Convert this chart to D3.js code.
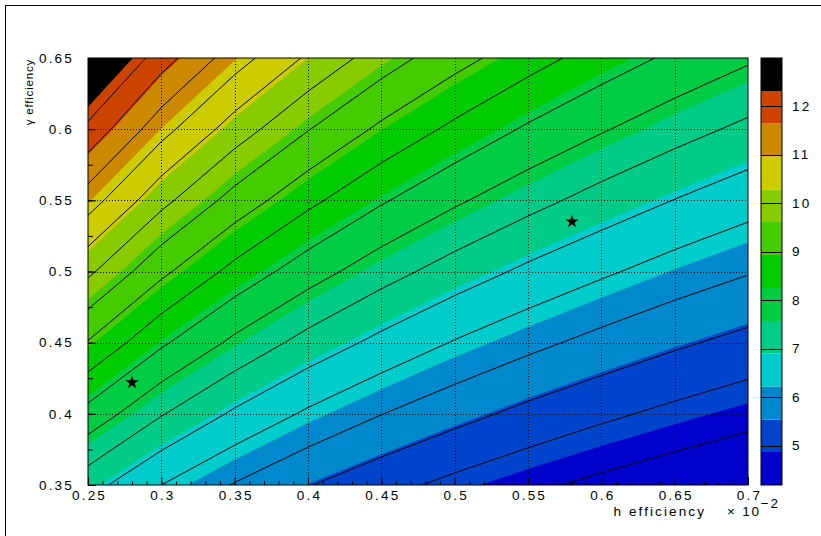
<!DOCTYPE html>
<html>
<head>
<meta charset="utf-8">
<script src="https://cdn.jsdelivr.net/npm/d3@7"></script>
<style>
  body { margin: 0; background: #fff; }
  svg text { font-family: "Liberation Sans", Arial, sans-serif; fill: #000; }
</style>
</head>
<body>
<div id="chart"></div>
<script>
// grid of the 2D histogram (x in units of 1e-2)
const xNodes = [0.25, 0.30, 0.35, 0.40, 0.45, 0.50, 0.55, 0.60, 0.65, 0.70];
const yNodes = [0.35, 0.40, 0.45, 0.50, 0.55, 0.60, 0.65];
const zGrid = [
  [ 7.00,  6.39,  5.92, 5.53, 5.22, 4.95, 4.72, 4.52, 4.34, 4.18],
  [ 8.00,  7.30,  6.76, 6.32, 5.96, 5.66, 5.39, 5.16, 4.96, 4.78],
  [ 9.00,  8.22,  7.61, 7.11, 6.71, 6.36, 6.07, 5.81, 5.58, 5.38],
  [10.00,  9.13,  8.45, 7.91, 7.45, 7.07, 6.74, 6.46, 6.20, 5.98],
  [11.00, 10.04,  9.30, 8.70, 8.20, 7.78, 7.42, 7.10, 6.82, 6.57],
  [12.00, 10.95, 10.14, 9.49, 8.94, 8.49, 8.09, 7.75, 7.44, 7.17],
  [13.00, 11.87, 10.99, 10.28, 9.69, 9.19, 8.77, 8.39, 8.06, 7.77]
];

const zRange = [4.19, 12.99];
const bandEdges = [4.19, 4.87, 5.54, 6.22, 6.90, 7.57, 8.25, 8.93, 9.61, 10.28, 10.96, 11.64, 12.31, 12.99];
const bandColors = ['#0000cc', '#0044cc', '#0088cc', '#00cccc', '#00cc88', '#00cc44', '#00cc00',
                    '#44cc00', '#88cc00', '#cccc00', '#cc8800', '#cc4400', '#000000'];
const lineLevels = [4.63, 5.07, 5.51, 5.95, 6.39, 6.83, 7.27, 7.71, 8.15, 8.59, 9.03,
                    9.47, 9.91, 10.35, 10.79, 11.23, 11.67, 12.11, 12.55];

const xTicks = [0.25, 0.3, 0.35, 0.4, 0.45, 0.5, 0.55, 0.6, 0.65, 0.7];
const yTicks = [0.35, 0.4, 0.45, 0.5, 0.55, 0.6, 0.65];
const zTicks = [5, 6, 7, 8, 9, 10, 11, 12];

const starX = [0.28, 0.58];
const starY = [0.422, 0.535];

const width = 821, height = 536;
const plot = { left: 88, right: 748, top: 58, bottom: 485 };
const bar = { left: 761, right: 782 };

const svg = d3.select('#chart').append('svg')
  .attr('width', width)
  .attr('height', height)
  .attr('viewBox', [0, 0, width, height]);

// canvas border (right and bottom edges fall outside the picture)
svg.append('rect')
  .attr('x', 5.5).attr('y', 5.5)
  .attr('width', 830).attr('height', 545)
  .attr('fill', '#fff').attr('stroke', '#000').attr('stroke-width', 1);

const x = d3.scaleLinear().domain([xNodes[0], xNodes[xNodes.length - 1]]).range([plot.left, plot.right]);
const y = d3.scaleLinear().domain([yNodes[0], yNodes[yNodes.length - 1]]).range([plot.bottom, plot.top]);
const z = d3.scaleLinear().domain(zRange).range([plot.bottom, plot.top]);

const nx = xNodes.length, ny = yNodes.length;
// grid coordinates -> data: node i sits at i + 0.5
const gx = d3.scaleLinear().domain([0.5, nx - 0.5]).range([xNodes[0], xNodes[nx - 1]]);
const gy = d3.scaleLinear().domain([0.5, ny - 0.5]).range([yNodes[0], yNodes[ny - 1]]);

const toScreen = d3.geoTransform({
  point: function (u, v) { this.stream.point(x(gx(u)), y(gy(v))); }
});
const path = d3.geoPath(toScreen);

const values = zGrid.flat();
const contours = d3.contours().size([nx, ny]);

svg.append('defs').append('clipPath').attr('id', 'plot-clip')
  .append('rect')
  .attr('x', plot.left).attr('y', plot.top)
  .attr('width', plot.right - plot.left).attr('height', plot.bottom - plot.top);

const area = svg.append('g').attr('clip-path', 'url(#plot-clip)');

// filled colour bands
area.append('rect')
  .attr('x', plot.left).attr('y', plot.top)
  .attr('width', plot.right - plot.left).attr('height', plot.bottom - plot.top)
  .attr('fill', bandColors[0]);

area.append('g').attr('id', 'bands')
  .selectAll('path')
  .data(contours.thresholds(bandEdges.slice(1, -1))(values))
  .join('path')
  .attr('d', path)
  .attr('fill', (d, i) => bandColors[i + 1])
  .attr('stroke', 'none');

// grid
const grid = svg.append('g').attr('id', 'grid')
  .attr('stroke', '#000').attr('stroke-width', 1).attr('stroke-dasharray', '1,2');
grid.selectAll('line.gx')
  .data(xTicks.slice(1, -1))
  .join('line').attr('class', 'gx')
  .attr('x1', d => Math.round(x(d)) + 0.5).attr('x2', d => Math.round(x(d)) + 0.5)
  .attr('y1', plot.top).attr('y2', plot.bottom);
grid.selectAll('line.gy')
  .data(yTicks.slice(1, -1))
  .join('line').attr('class', 'gy')
  .attr('y1', d => Math.round(y(d)) + 0.5).attr('y2', d => Math.round(y(d)) + 0.5)
  .attr('x1', plot.left).attr('x2', plot.right);

// contour lines
area.append('g').attr('id', 'contour-lines')
  .selectAll('path')
  .data(contours.thresholds(lineLevels)(values))
  .join('path')
  .attr('d', path)
  .attr('fill', 'none')
  .attr('stroke', '#000')
  .attr('stroke-width', 1);

// stars
svg.append('g').attr('id', 'stars')
  .selectAll('path')
  .data(d3.zip(starX, starY))
  .join('path')
  .attr('transform', d => `translate(${x(d[0])},${y(d[1])})`)
  .attr('d', d3.symbol(d3.symbolStar, 55))
  .attr('fill', '#000');

// frame
svg.append('rect')
  .attr('x', plot.left).attr('y', plot.top)
  .attr('width', plot.right - plot.left).attr('height', plot.bottom - plot.top)
  .attr('fill', 'none').attr('stroke', '#000').attr('stroke-width', 1);

const fmt = d => String(+d.toFixed(2));
const labelStyle = s => s.attr('font-size', 13.5).attr('letter-spacing', 2.2);

// x axis
const xMinor = d3.range(0.25, 0.7001, 0.01);
svg.append('g')
  .attr('transform', `translate(0,${plot.bottom})`)
  .call(d3.axisBottom(x).tickValues(xMinor).tickSize(-4).tickFormat(''))
  .call(g => g.select('.domain').remove());
svg.append('g')
  .attr('transform', `translate(0,${plot.bottom})`)
  .call(d3.axisBottom(x).tickValues(xTicks).tickSize(-8).tickPadding(5).tickFormat(fmt))
  .call(g => g.select('.domain').remove())
  .call(g => g.selectAll('text').call(labelStyle).attr('dx', 1));

// y axis
const yMinor = d3.range(0.35, 0.6501, 0.025);
svg.append('g')
  .attr('transform', `translate(${plot.left},0)`)
  .call(d3.axisLeft(y).tickValues(yMinor).tickSize(-5).tickFormat(''))
  .call(g => g.select('.domain').remove());
svg.append('g')
  .attr('transform', `translate(${plot.left},0)`)
  .call(d3.axisLeft(y).tickValues(yTicks).tickSize(-8).tickPadding(14).tickFormat(fmt))
  .call(g => g.select('.domain').remove())
  .call(g => g.selectAll('text').call(labelStyle));

// axis titles
svg.append('text')
  .attr('x', 706).attr('y', 516)
  .attr('text-anchor', 'end')
  .attr('font-size', 13.5).attr('letter-spacing', 2.1)
  .text('h efficiency');
const mult = svg.append('text')
  .attr('x', 727).attr('y', 516)
  .attr('font-size', 13.5).attr('letter-spacing', 1.8);
mult.append('tspan').text('\u00d7 10');
mult.append('tspan').attr('dy', -8).attr('font-size', 13.5).text('\u22122');

svg.append('text')
  .attr('transform', `translate(33,${plot.top + 1}) rotate(-90)`)
  .attr('text-anchor', 'end')
  .attr('font-size', 11.5).attr('letter-spacing', 0.8)
  .text('\u03b3 efficiency');

// palette
const palette = svg.append('g').attr('id', 'palette');
palette.selectAll('rect')
  .data(d3.pairs(bandEdges))
  .join('rect')
  .attr('x', bar.left).attr('width', bar.right - bar.left)
  .attr('y', d => z(d[1])).attr('height', d => z(d[0]) - z(d[1]))
  .attr('fill', (d, i) => bandColors[i]);
palette.selectAll('line')
  .data(zTicks)
  .join('line')
  .attr('x1', bar.left).attr('x2', bar.right)
  .attr('y1', d => Math.round(z(d)) + 0.5).attr('y2', d => Math.round(z(d)) + 0.5)
  .attr('stroke', '#000');
palette.append('rect')
  .attr('x', bar.left).attr('y', plot.top)
  .attr('width', bar.right - bar.left).attr('height', plot.bottom - plot.top)
  .attr('fill', 'none').attr('stroke', '#000');
palette.selectAll('text')
  .data(zTicks)
  .join('text')
  .attr('x', 792).attr('y', d => z(d))
  .attr('dy', '0.35em')
  .call(labelStyle)
  .text(d => d);
</script>
</body>
</html>
